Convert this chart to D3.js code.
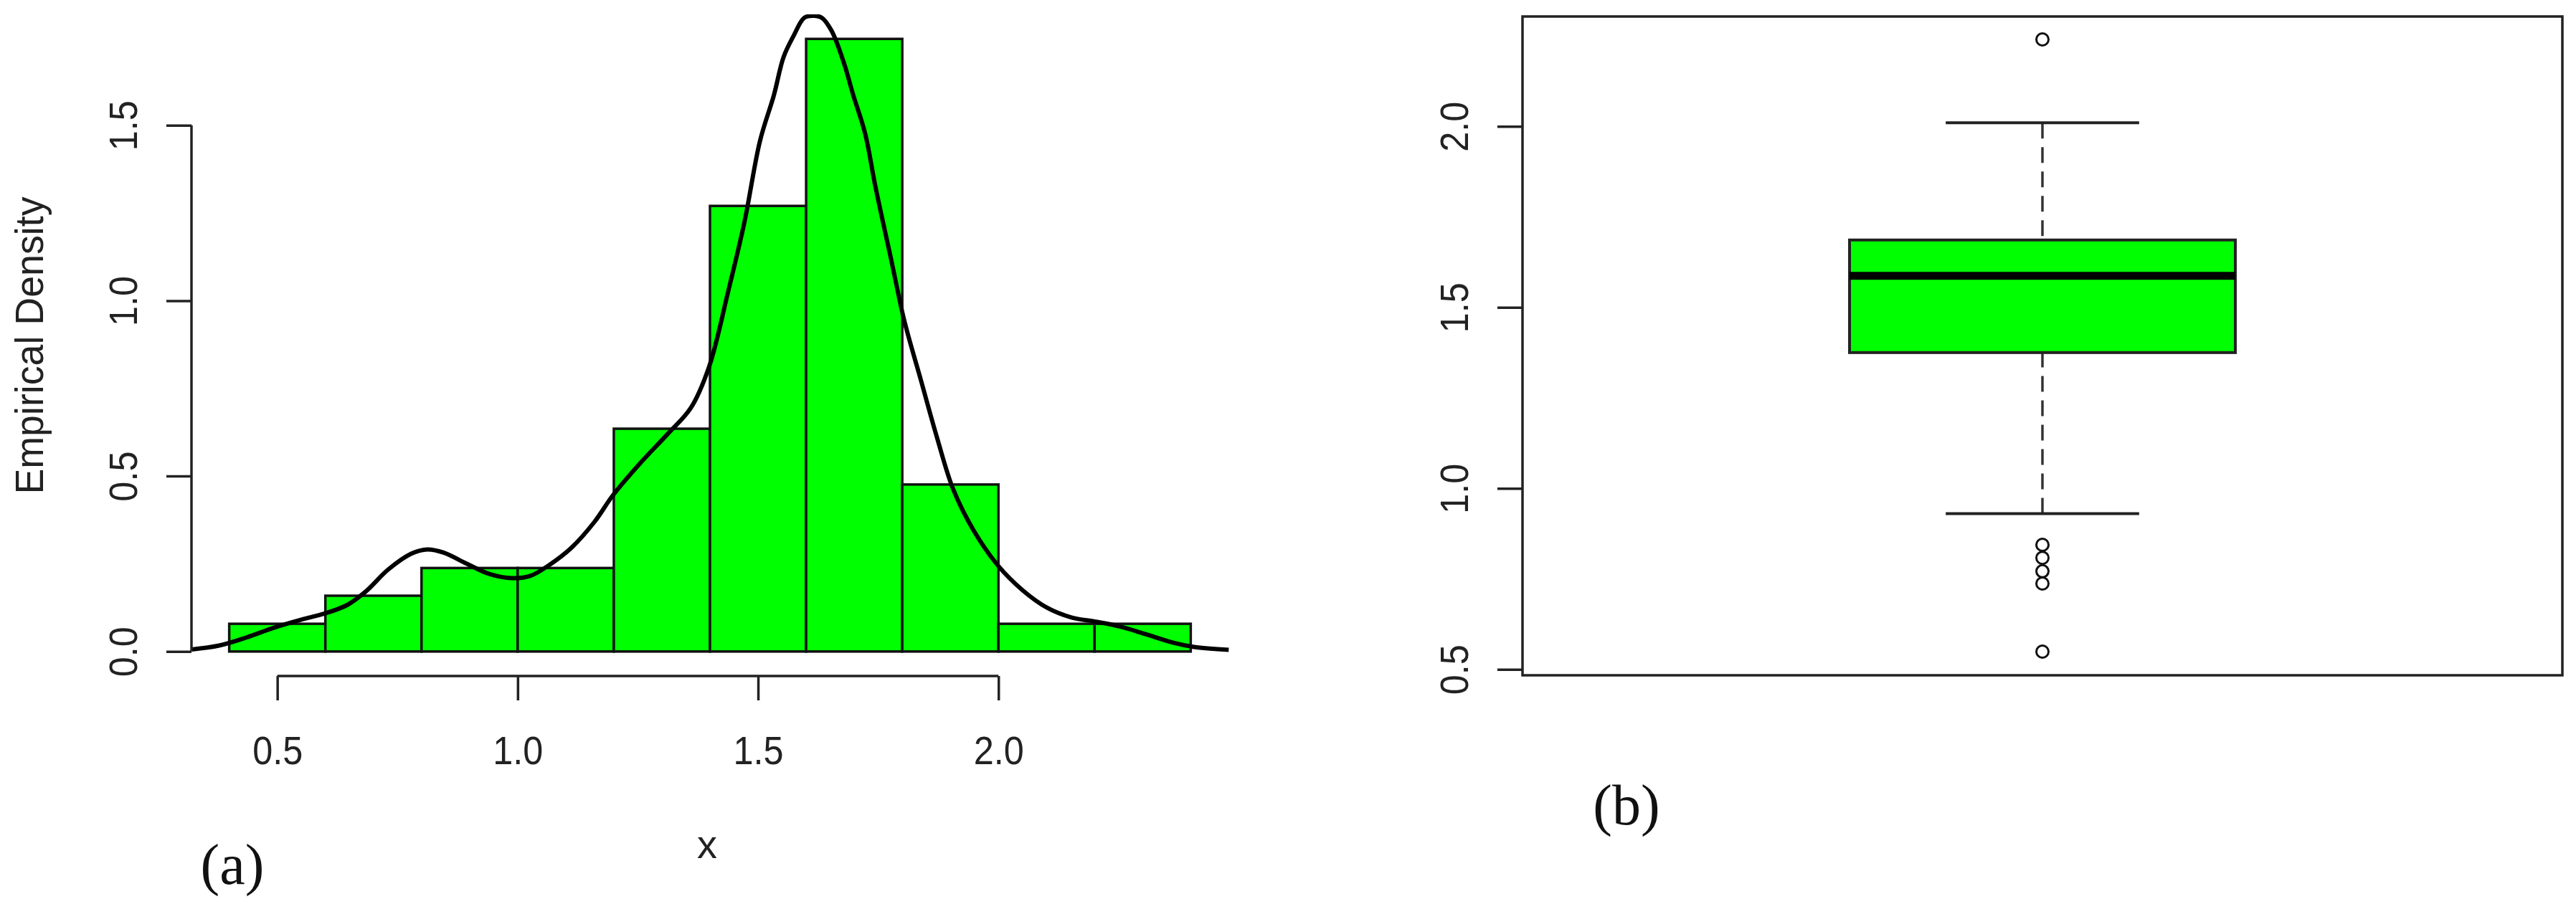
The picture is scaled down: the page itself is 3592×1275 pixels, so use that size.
<!DOCTYPE html>
<html>
<head>
<meta charset="utf-8">
<script src="https://cdn.jsdelivr.net/npm/d3@7"></script>
<style>
  body { margin: 0; background: #fff; }
  text { font-family: "Liberation Sans", Arial, sans-serif; fill: #222; }
  .serif { font-family: "Liberation Serif", "Times New Roman", serif; fill: #111; }
</style>
</head>
<body>
<div id="chart"></div>
<script>
// histogram (a): bins of width 0.2 and their empirical density
var binEdges = [0.4, 0.6, 0.8, 1.0, 1.2, 1.4, 1.6, 1.8, 2.0, 2.2, 2.4];
var binDensity = [0.079, 0.159, 0.238, 0.238, 0.635, 1.270, 1.746, 0.476, 0.079, 0.079];

// kernel density curve
var curveX = [0.322, 0.379, 0.436, 0.493, 0.550, 0.598, 0.646, 0.684, 0.731, 0.779, 0.812, 0.846,
  0.893, 0.941, 0.989, 1.027, 1.065, 1.112, 1.160, 1.198, 1.255, 1.312, 1.360, 1.398, 1.438,
  1.472, 1.504, 1.533, 1.553, 1.574, 1.596, 1.615, 1.633, 1.653, 1.678, 1.698, 1.723, 1.744,
  1.778, 1.804, 1.838, 1.872, 1.906, 1.948, 1.999, 2.050, 2.101, 2.152, 2.203, 2.254, 2.305,
  2.364, 2.407, 2.479];
var curveY = [0.006, 0.017, 0.040, 0.068, 0.091, 0.108, 0.133, 0.171, 0.234, 0.279, 0.291, 0.282,
  0.251, 0.221, 0.209, 0.216, 0.246, 0.296, 0.370, 0.445, 0.537, 0.620, 0.694, 0.811, 1.027,
  1.226, 1.455, 1.586, 1.694, 1.755, 1.806, 1.812, 1.806, 1.769, 1.680, 1.586, 1.475, 1.326,
  1.110, 0.944, 0.777, 0.611, 0.462, 0.346, 0.245, 0.175, 0.125, 0.097, 0.085, 0.071, 0.050,
  0.025, 0.013, 0.005];

var histXTicks = [0.5, 1.0, 1.5, 2.0];
var histYTicks = [0.0, 0.5, 1.0, 1.5];

// boxplot (b)
var boxStats = { lower: 0.930, q1: 1.375, median: 1.587, q3: 1.686, upper: 2.010 };
var outliers = [0.549, 0.737, 0.771, 0.808, 0.844, 2.240];
var boxYTicks = [0.5, 1.0, 1.5, 2.0];

var W = 3592, H = 1275;

var svg = d3.select("#chart")
  .append("svg")
    .attr("width", W)
    .attr("height", H)
    .style("background", "#fff");

// ---------- panel (a) ----------
var xA = d3.scaleLinear().domain([0.32, 2.48]).range([266, 1714]);
var yA = d3.scaleLinear().domain([-0.0698, 1.816]).range([943, 20]);

svg.append("defs").append("clipPath")
    .attr("id", "clipA")
  .append("rect")
    .attr("x", xA.range()[0]).attr("y", yA.range()[1])
    .attr("width", xA.range()[1] - xA.range()[0])
    .attr("height", yA.range()[0] - yA.range()[1]);

var bins = binDensity.map(function(d, i) { return { x0: binEdges[i], x1: binEdges[i + 1], d: d }; });

svg.append("g")
  .selectAll("rect")
  .data(bins)
  .enter()
  .append("rect")
    .attr("x", function(b) { return xA(b.x0); })
    .attr("y", function(b) { return yA(b.d); })
    .attr("width", function(b) { return xA(b.x1) - xA(b.x0); })
    .attr("height", function(b) { return yA(0) - yA(b.d); })
    .style("fill", "#00ff00")
    .style("stroke", "#111")
    .style("stroke-width", 3.5);

var line = d3.line()
  .x(function(d) { return xA(d[0]); })
  .y(function(d) { return yA(d[1]); })
  .curve(d3.curveCatmullRom);

svg.append("path")
  .datum(d3.zip(curveX, curveY))
  .attr("clip-path", "url(#clipA)")
  .attr("d", line)
  .style("fill", "none")
  .style("stroke", "#000")
  .style("stroke-width", 6)
  .style("stroke-linejoin", "round");

// y axis (a)
var axA = svg.append("g")
  .attr("transform", "translate(267,0)")
  .call(d3.axisLeft(yA).tickValues(histYTicks).tickSize(35).tickFormat(d3.format(".1f")));
axA.select(".domain").remove();
axA.append("line")
  .attr("y1", yA(histYTicks[0])).attr("y2", yA(histYTicks[histYTicks.length - 1]));

// x axis (a)
var axX = svg.append("g")
  .attr("transform", "translate(0,943)")
  .call(d3.axisBottom(xA).tickValues(histXTicks).tickSize(34).tickFormat(d3.format(".1f")));
axX.select(".domain").remove();
axX.append("line")
  .attr("x1", xA(histXTicks[0])).attr("x2", xA(histXTicks[histXTicks.length - 1]));
axX.selectAll("text")
  .attr("y", null).attr("dy", null)
  .attr("transform", "translate(0,123) scale(0.9,1)");

svg.append("text")
  .attr("text-anchor", "middle")
  .attr("transform", "translate(60,482) rotate(-90)")
  .attr("textLength", 415)
  .attr("lengthAdjust", "spacingAndGlyphs")
  .style("font-size", "56px")
  .text("Empirical Density");

svg.append("text")
  .attr("x", 986).attr("y", 1197)
  .attr("text-anchor", "middle")
  .style("font-size", "56px")
  .text("x");

svg.append("text")
  .attr("class", "serif")
  .attr("x", 324).attr("y", 1233)
  .attr("text-anchor", "middle")
  .style("font-size", "80px")
  .text("(a)");

// ---------- panel (b) ----------
var xB = d3.scaleLinear().domain([0.5, 1.5]).range([2123, 3573]);
var yB = d3.scaleLinear().domain([0.4836, 2.3034]).range([942, 23]);
var boxHalf = 0.1855, capHalf = 0.093;

// whiskers, dashed, drawn from cap towards the box
svg.append("g")
  .selectAll("line")
  .data([[boxStats.upper, boxStats.q3], [boxStats.lower, boxStats.q1]])
  .enter()
  .append("line")
    .attr("x1", xB(1)).attr("x2", xB(1))
    .attr("y1", function(d) { return yB(d[0]); })
    .attr("y2", function(d) { return yB(d[1]); })
    .style("stroke", "#333")
    .style("stroke-width", 3.5)
    .style("stroke-dasharray", "22,12");

svg.append("g")
  .selectAll("line")
  .data([boxStats.upper, boxStats.lower])
  .enter()
  .append("line")
    .attr("x1", xB(1 - capHalf)).attr("x2", xB(1 + capHalf))
    .attr("y1", function(d) { return yB(d); })
    .attr("y2", function(d) { return yB(d); })
    .style("stroke", "#222")
    .style("stroke-width", 4);

svg.append("rect")
  .attr("x", xB(1 - boxHalf))
  .attr("y", yB(boxStats.q3))
  .attr("width", xB(1 + boxHalf) - xB(1 - boxHalf))
  .attr("height", yB(boxStats.q1) - yB(boxStats.q3))
  .style("fill", "#00ff00")
  .style("stroke", "#222")
  .style("stroke-width", 4);

svg.append("line")
  .attr("x1", xB(1 - boxHalf)).attr("x2", xB(1 + boxHalf))
  .attr("y1", yB(boxStats.median)).attr("y2", yB(boxStats.median))
  .style("stroke", "#000")
  .style("stroke-width", 11);

svg.append("g")
  .selectAll("circle")
  .data(outliers)
  .enter()
  .append("circle")
    .attr("cx", xB(1))
    .attr("cy", function(d) { return yB(d); })
    .attr("r", 8.5)
    .style("fill", "none")
    .style("stroke", "#111")
    .style("stroke-width", 3);

svg.append("rect")
  .attr("x", xB.range()[0]).attr("y", yB.range()[1])
  .attr("width", xB.range()[1] - xB.range()[0])
  .attr("height", yB.range()[0] - yB.range()[1])
  .style("fill", "none")
  .style("stroke", "#222")
  .style("stroke-width", 3.5);

var axB = svg.append("g")
  .attr("transform", "translate(2123,0)")
  .call(d3.axisLeft(yB).tickValues(boxYTicks).tickSize(35).tickFormat(d3.format(".1f")));
axB.select(".domain").remove();

svg.append("text")
  .attr("class", "serif")
  .attr("x", 2268).attr("y", 1150)
  .attr("text-anchor", "middle")
  .style("font-size", "80px")
  .text("(b)");

// R style axis labels: parallel to the axis, reading upwards
[axA, axB].forEach(function(ax) {
  ax.selectAll("text")
    .attr("x", null).attr("dy", null)
    .attr("text-anchor", "middle")
    .attr("transform", "translate(-76,0) rotate(-90) scale(0.9,1)");
});
[axA, axX, axB].forEach(function(ax) {
  ax.selectAll("line").style("stroke", "#222").style("stroke-width", 3.5);
  ax.selectAll("text").style("font-size", "56px").style("fill", "#222")
    .style("font-family", "'Liberation Sans', Arial, sans-serif");
});
</script>
</body>
</html>
